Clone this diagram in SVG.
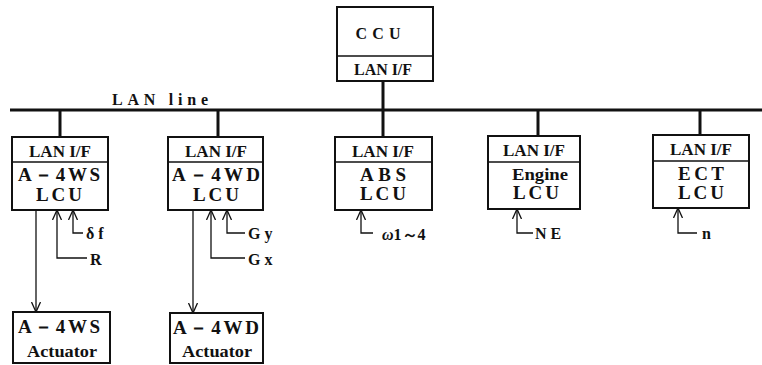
<svg xmlns="http://www.w3.org/2000/svg" width="762" height="365" viewBox="0 0 762 365" font-family="'Liberation Serif', 'DejaVu Serif', serif">
<style>
.box{fill:#fff;stroke:#111;stroke-width:2}
.bus{stroke:#111;stroke-width:3;fill:none}
.ln{stroke:#111;stroke-width:1.3;fill:none}
.hd{font-weight:bold;font-size:16px;fill:#111;text-anchor:middle}
.nm{font-weight:bold;font-size:19px;fill:#111;text-anchor:middle}
.cn{font-weight:bold;font-size:16px;fill:#111;text-anchor:middle}
.lb{font-weight:bold;font-size:16px;fill:#111}
</style>
<defs>
<marker id="ah" viewBox="0 0 10 10" refX="10" refY="5" markerWidth="10" markerHeight="10" markerUnits="userSpaceOnUse" orient="auto">
<path d="M0,0.5 L10,5 L0,9.5" fill="none" stroke="#111" stroke-width="1.3"/>
</marker>
</defs>
<rect width="762" height="365" fill="#fff"/>

<g id="connectors">
<line class="bus" x1="10" y1="110" x2="762" y2="110"/>
<line class="bus" x1="383" y1="81" x2="383" y2="137"/>
<line class="bus" x1="60" y1="110" x2="60" y2="137"/>
<line class="bus" x1="218" y1="110" x2="218" y2="137"/>
<line class="bus" x1="538" y1="110" x2="538" y2="136"/>
<line class="bus" x1="700" y1="110" x2="700" y2="135"/>
<text x="112" y="105" class="lb" textLength="96" lengthAdjust="spacing">LAN line</text>
<!-- A-4WS -->
<line class="ln" x1="36" y1="210" x2="36" y2="312" marker-end="url(#ah)"/>
<polyline class="ln" points="87,258 57,258 57,210" marker-end="url(#ah)"/>
<polyline class="ln" points="83,233 73,233 73,210" marker-end="url(#ah)"/>
<text x="86" y="239" class="lb">δ f</text>
<text x="90" y="265" class="lb">R</text>
<!-- A-4WD -->
<line class="ln" x1="193" y1="210" x2="193" y2="313" marker-end="url(#ah)"/>
<polyline class="ln" points="245,258 211,258 211,210" marker-end="url(#ah)"/>
<polyline class="ln" points="245,233 227,233 227,210" marker-end="url(#ah)"/>
<text x="248" y="239" class="lb">G y</text>
<text x="248" y="265" class="lb">G x</text>
<!-- ABS -->
<polyline class="ln" points="373,233 361,233 361,210" marker-end="url(#ah)"/>
<text x="382" y="240" class="lb"><tspan font-style="italic">ω</tspan>1～4</text>
<!-- Engine -->
<polyline class="ln" points="533,233 517,233 517,209" marker-end="url(#ah)"/>
<text x="535" y="239" class="lb">N E</text>
<!-- ECT -->
<polyline class="ln" points="697,233 678,233 678,208" marker-end="url(#ah)"/>
<text x="702" y="239" class="lb">n</text>
</g>

<g id="ccu">
<rect class="box" x="337" y="7" width="96" height="74"/>
<line class="ln" stroke-width="2" x1="337" y1="56" x2="433" y2="56"/>
<text x="378" y="39" class="cn" textLength="45" lengthAdjust="spacing">C C U</text>
<text x="383" y="75" class="hd" textLength="58" lengthAdjust="spacingAndGlyphs">LAN I/F</text>
</g>

<g id="a4ws-lcu">
<rect class="box" x="12" y="137" width="96" height="73"/>
<line class="ln" stroke-width="2" x1="12" y1="162" x2="108" y2="162"/>
<text x="60" y="157" class="hd" textLength="62" lengthAdjust="spacingAndGlyphs">LAN I/F</text>
<text x="59" y="181" class="nm" textLength="82" lengthAdjust="spacing">A－4WS</text>
<text x="59" y="201" class="nm" textLength="46" lengthAdjust="spacing">LCU</text>
</g>

<g id="a4wd-lcu">
<rect class="box" x="168" y="137" width="95" height="73"/>
<line class="ln" stroke-width="2" x1="168" y1="162" x2="263" y2="162"/>
<text x="216" y="157" class="hd" textLength="62" lengthAdjust="spacingAndGlyphs">LAN I/F</text>
<text x="216" y="181" class="nm" textLength="88" lengthAdjust="spacing">A－4WD</text>
<text x="216" y="201" class="nm" textLength="46" lengthAdjust="spacing">LCU</text>
</g>

<g id="abs-lcu">
<rect class="box" x="335" y="137" width="97" height="73"/>
<line class="ln" stroke-width="2" x1="335" y1="162" x2="432" y2="162"/>
<text x="383" y="157" class="hd" textLength="62" lengthAdjust="spacingAndGlyphs">LAN I/F</text>
<text x="383" y="181" class="nm" textLength="46" lengthAdjust="spacing">ABS</text>
<text x="383" y="200" class="nm" textLength="46" lengthAdjust="spacing">LCU</text>
</g>

<g id="engine-lcu">
<rect class="box" x="488" y="136" width="92" height="73"/>
<line class="ln" stroke-width="2" x1="488" y1="162" x2="580" y2="162"/>
<text x="534" y="156" class="hd" textLength="62" lengthAdjust="spacingAndGlyphs">LAN I/F</text>
<text x="540" y="180" class="hd" textLength="56" lengthAdjust="spacingAndGlyphs">Engine</text>
<text x="536" y="199" class="nm" textLength="46" lengthAdjust="spacing">LCU</text>
</g>

<g id="ect-lcu">
<rect class="box" x="653" y="135" width="96" height="73"/>
<line class="ln" stroke-width="2" x1="653" y1="161" x2="749" y2="161"/>
<text x="701" y="155" class="hd" textLength="62" lengthAdjust="spacingAndGlyphs">LAN I/F</text>
<text x="701" y="180" class="nm" textLength="46" lengthAdjust="spacing">ECT</text>
<text x="701" y="199" class="nm" textLength="46" lengthAdjust="spacing">LCU</text>
</g>

<g id="a4ws-actuator">
<rect class="box" x="13" y="312" width="97" height="51"/>
<text x="59" y="333" class="nm" textLength="82" lengthAdjust="spacing">A－4WS</text>
<text x="62" y="357" class="hd" textLength="70" lengthAdjust="spacingAndGlyphs">Actuator</text>
</g>

<g id="a4wd-actuator">
<rect class="box" x="170" y="313" width="93" height="50"/>
<text x="216" y="334" class="nm" textLength="86" lengthAdjust="spacing">A－4WD</text>
<text x="217" y="357" class="hd" textLength="70" lengthAdjust="spacingAndGlyphs">Actuator</text>
</g>
</svg>
